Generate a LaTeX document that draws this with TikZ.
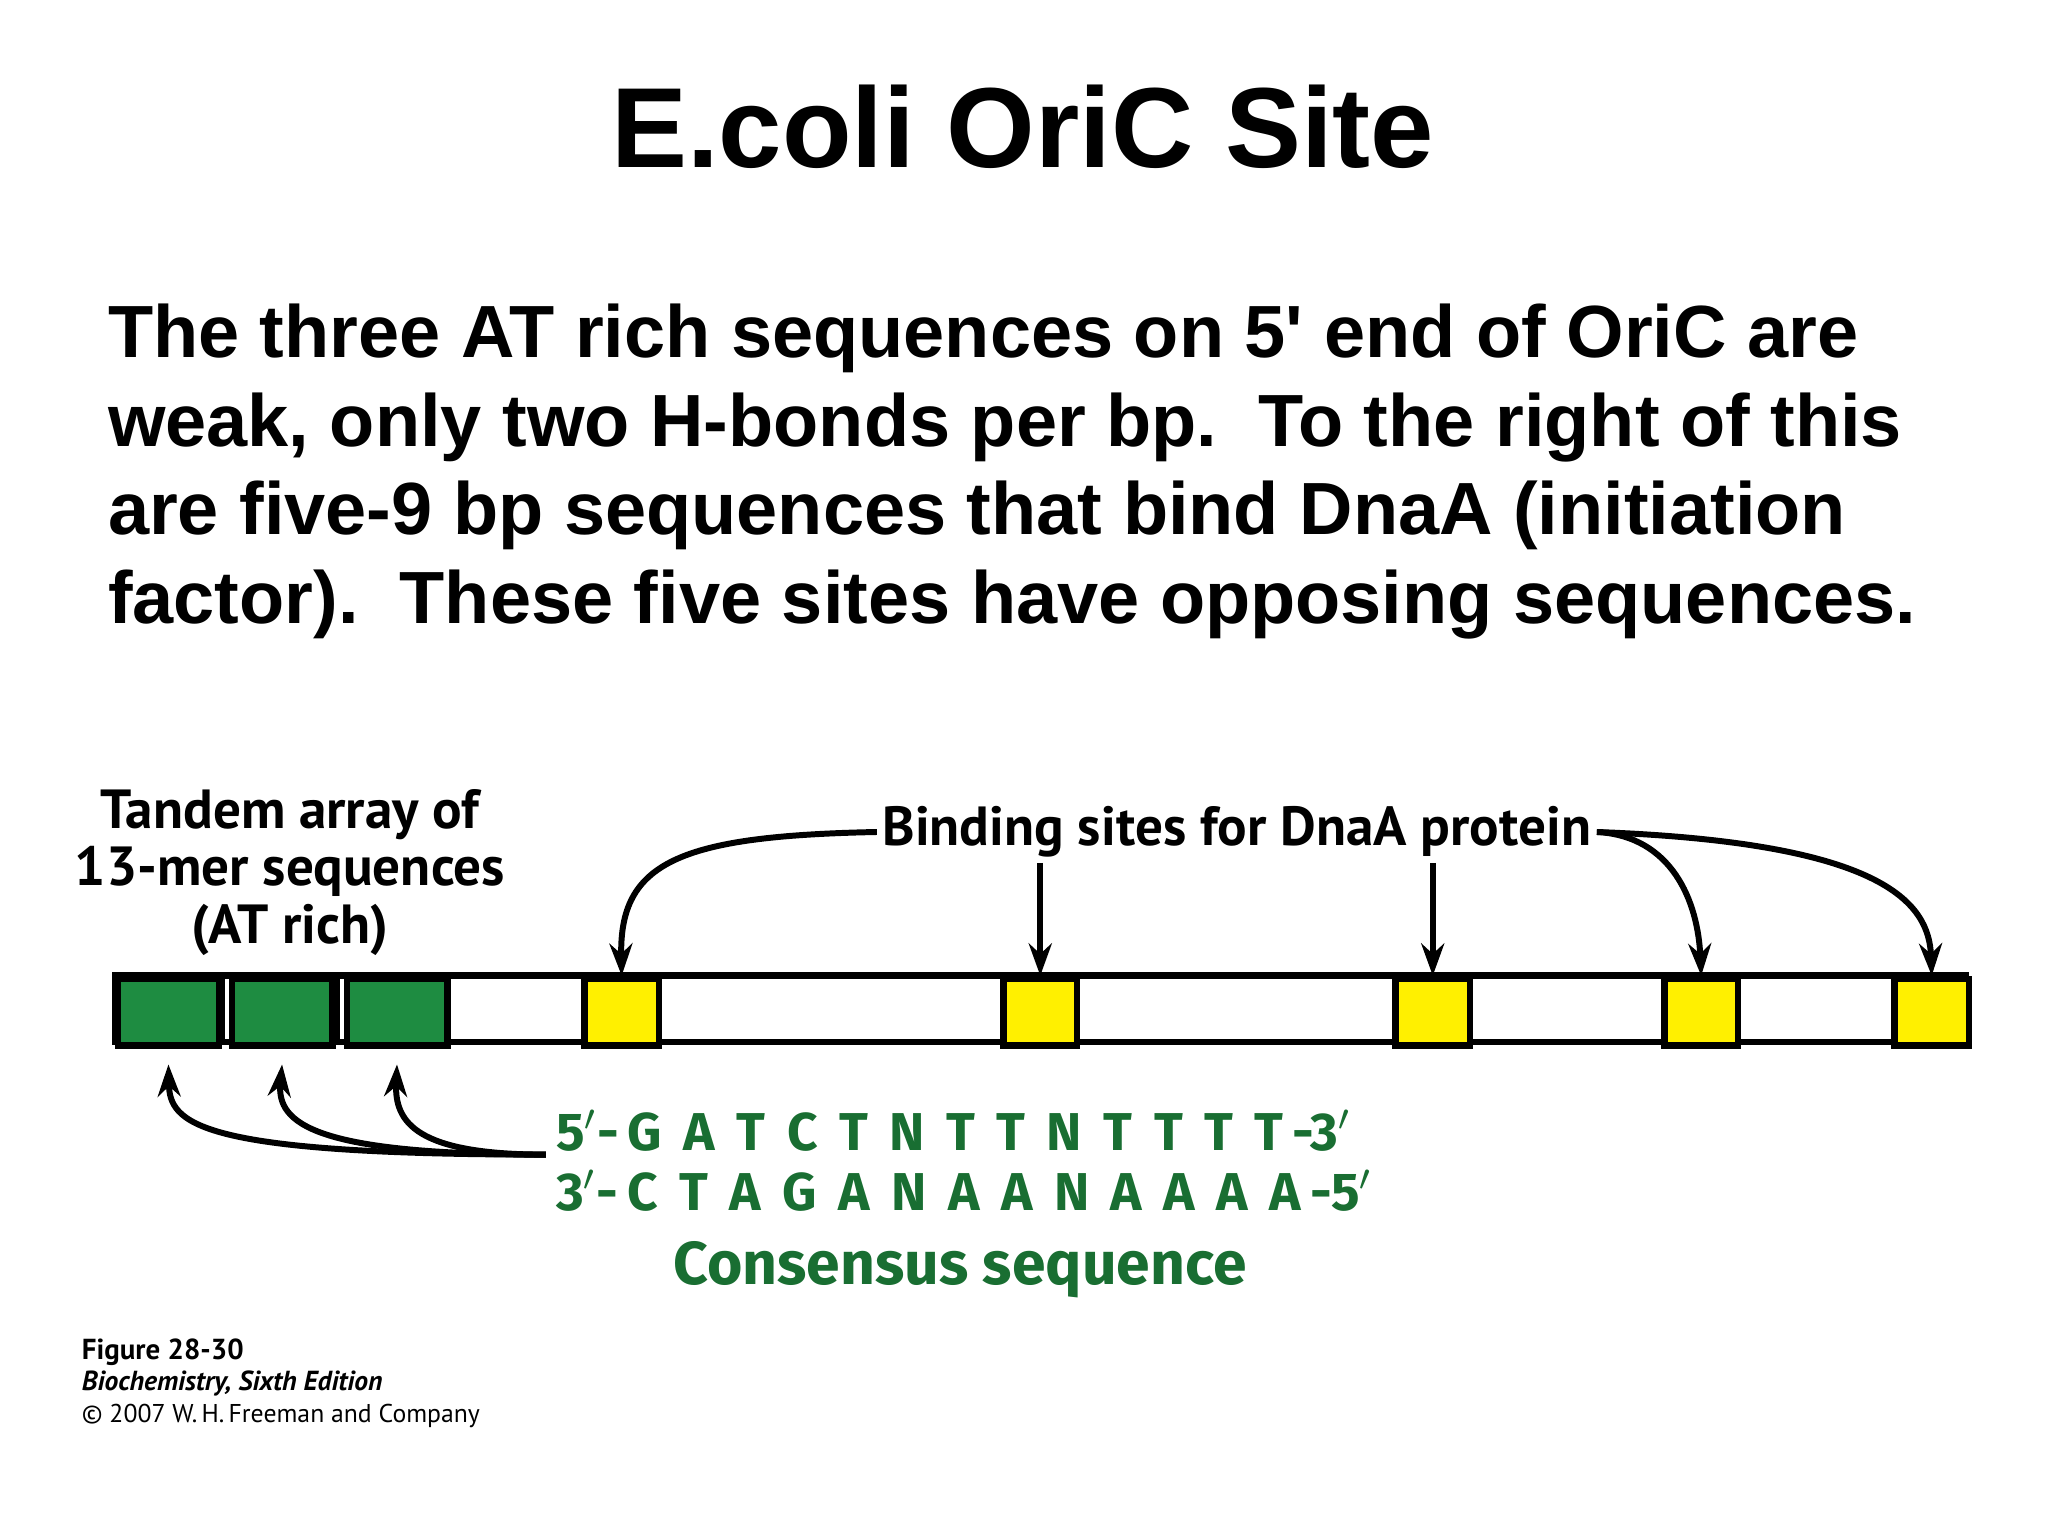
\documentclass[tikz,border=0pt]{standalone}
\usepackage{fontspec}
\setmainfont{Liberation Sans}
\newfontfamily\fira{Fira Sans}
\newfontfamily\pts{PT Sans}
\usetikzlibrary{arrows.meta}
\definecolor{dg}{RGB}{30,140,65}
\definecolor{sg}{RGB}{25,110,50}
\definecolor{yl}{RGB}{255,240,0}
\begin{document}
\begin{tikzpicture}[x=0.01cm,y=-0.01cm,
  lbl/.style={font=\pts\bfseries\fontsize{12}{13.5}\selectfont,inner sep=1pt},
  arr/.style={line width=1.3pt,-{Stealth[length=7pt,width=5pt]}},
  seg/.style={draw=black,line width=1.4pt}]
\useasboundingbox (0,0) rectangle (1568,1176);
\node (title) at (783,97) {\fontsize{24.8}{30}\selectfont\bfseries E.coli OriC Site};
\node[anchor=north west,align=left,inner sep=0,font=\fontsize{16.1}{19.3}\selectfont\bfseries] (para) at (82,232) {The three AT rich sequences on 5\textquotesingle{} end of OriC are\\
weak, only two H-bonds per bp.\ \ To the right of this\\
are five-9 bp sequences that bind DnaA (initiation\\
factor).\ \ These five sites have opposing sequences.};
% bar
\draw[seg,fill=white] (88,747) rectangle (1505,798);
\foreach \a/\b/\n in {88/165/g1,175/252/g2,263/340/g3}{
  \node[seg,fill=dg,minimum width={(\b-\a)*0.01cm},minimum height=0.51cm,inner sep=0,anchor=north west] (\n) at (\a,747) {};}
\draw[line width=1.4pt] (170,747)--(170,798) (258,747)--(258,798);
\foreach \a/\b/\n in {445/502/y1,766/822/y2,1066/1123/y3,1272/1328/y4,1448/1505/y5}{
  \node[seg,fill=yl,minimum width={(\b-\a)*0.01cm},minimum height=0.51cm,inner sep=0,anchor=north west] (\n) at (\a,747) {};}
% labels
\node[lbl,align=center] (tandem) at (222,668) {Tandem array of\\[-1pt]13-mer sequences\\[-1pt](AT rich)};
\node[lbl] (bind) at (947,637) {Binding sites for DnaA protein};
\draw[arr] (bind.west) .. controls (520,640) and (474,660) .. (y1.north);
\draw[arr] (y2.north |- bind.south) -- (y2.north);
\draw[arr] (y3.north |- bind.south) -- (y3.north);
\draw[arr] (bind.east) .. controls (1280,640) and (1300,690) .. (y4.north);
\draw[arr] (bind.east) .. controls (1440,645) and (1477,690) .. (y5.north);
% sequence
\node[anchor=west,text=sg,font=\fira\bfseries\fontsize{11.6}{15}\selectfont,inner sep=0] (s1) at (425,866) {5$'$-\,G\ \,A\ \,T\ \,C\ \,T\ \,N\ \,T\ \,T\ \,N\ \,T\ \,T\ \,T\ \,T\,-3$'$};
\node[anchor=west,text=sg,font=\fira\bfseries\fontsize{11.6}{15}\selectfont,inner sep=0] (s2) at (425,912) {3$'$-\,C\ \,T\ \,A\ \,G\ \,A\ \,N\ \,A\ \,A\ \,N\ \,A\ \,A\ \,A\ \,A\,-5$'$};
\node[text=sg,font=\fira\bfseries\fontsize{13.2}{16}\selectfont] (cons) at (735,972) {Consensus sequence};
\coordinate (src) at (418,884);
\draw[arr] (src) .. controls (150,884) and (130,860) .. ([yshift=-0.12cm]g1.south);
\draw[arr] (src) .. controls (240,884) and (212,860) .. ([yshift=-0.12cm]g2.south);
\draw[arr] (src) .. controls (320,884) and (302,860) .. ([yshift=-0.12cm]g3.south);
% caption
\node[anchor=west,inner sep=0,font=\pts\bfseries\fontsize{6.3}{8}\selectfont] (f1) at (62,1035) {Figure 28-30};
\node[anchor=west,inner sep=0,font=\pts\bfseries\itshape\fontsize{6}{8}\selectfont] (f2) at (62,1059) {Biochemistry, Sixth Edition};
\node[anchor=west,inner sep=0,font=\pts\fontsize{5.6}{8}\selectfont] (f3) at (62,1084) {© 2007 W.\,H.\,Freeman and Company};
\end{tikzpicture}
\end{document}
